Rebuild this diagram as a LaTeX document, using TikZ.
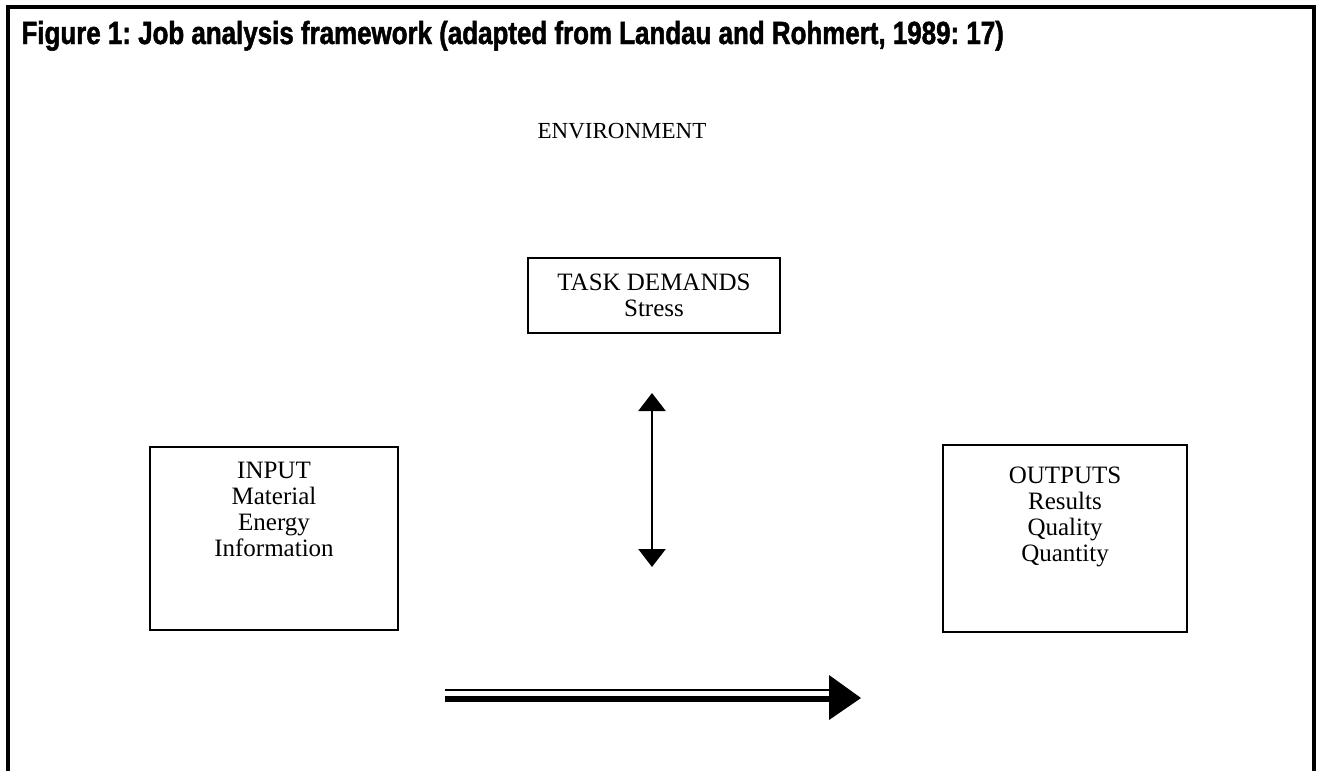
\documentclass[tikz,border=0pt]{standalone}
\usepackage{fontspec}
\setmainfont{Liberation Serif}
\newfontfamily\titlefont[FakeStretch=0.81,FakeBold=1.5]{Liberation Sans}
\usetikzlibrary{arrows.meta}
\frenchspacing

\begin{document}
\begin{tikzpicture}[x=1pt,y=-1pt,
    box/.style={draw,line width=2pt,align=center,inner sep=0pt,
      font=\fontsize{25}{26}\selectfont},
    txt/.style={align=center,font=\fontsize{25}{26}\selectfont}]
      \def\framew{4pt}
      \def\arrowy{698}

      \useasboundingbox (0,0) rectangle (1317,771);
      \draw[line width=\framew] (8,771) -- (8,7) -- (1314,7) -- (1314,771);

      \node[anchor=base west,font=\titlefont\bfseries\fontsize{32}{32}\selectfont] (title) at (18,44)
        {Figure 1: Job analysis framework (adapted from Landau and Rohmert, 1989: 17)};

      \node[txt,font=\fontsize{23}{26}\selectfont] (env) at (622,131) {ENVIRONMENT};

      \node[box,minimum width=252pt,minimum height=75pt] (task) at (654,295.5) {TASK DEMANDS\\Stress};
      \node[box,minimum width=248pt,minimum height=183pt,text depth=58pt] (input) at (274,538.5)
        {INPUT\\Material\\Energy\\Information};
      \node[box,minimum width=244pt,minimum height=187pt,text depth=48pt] (output) at (1065,538.5)
        {OUTPUTS\\Results\\Quality\\Quantity};

      \coordinate (up) at (652,393);
      \coordinate (down) at (652,567);
      \draw[line width=2.5pt,{Triangle[width=27pt,length=18pt]}-{Triangle[width=27pt,length=18pt]}] (up) -- (down);

      \coordinate (flowstart) at (445,\arrowy);
      \coordinate (flowend) at (861,\arrowy);
      \draw[line width=2pt] ([yshift=8pt]flowstart) -- ([xshift=-31pt,yshift=8pt]flowend);
      \draw[line width=6pt] ([yshift=-1pt]flowstart) -- ([xshift=-31pt,yshift=-1pt]flowend);
      \fill ([xshift=-32pt,yshift=23pt]flowend) -- (flowend) -- ([xshift=-32pt,yshift=-22pt]flowend) -- cycle;
    \end{tikzpicture}
\end{document}
